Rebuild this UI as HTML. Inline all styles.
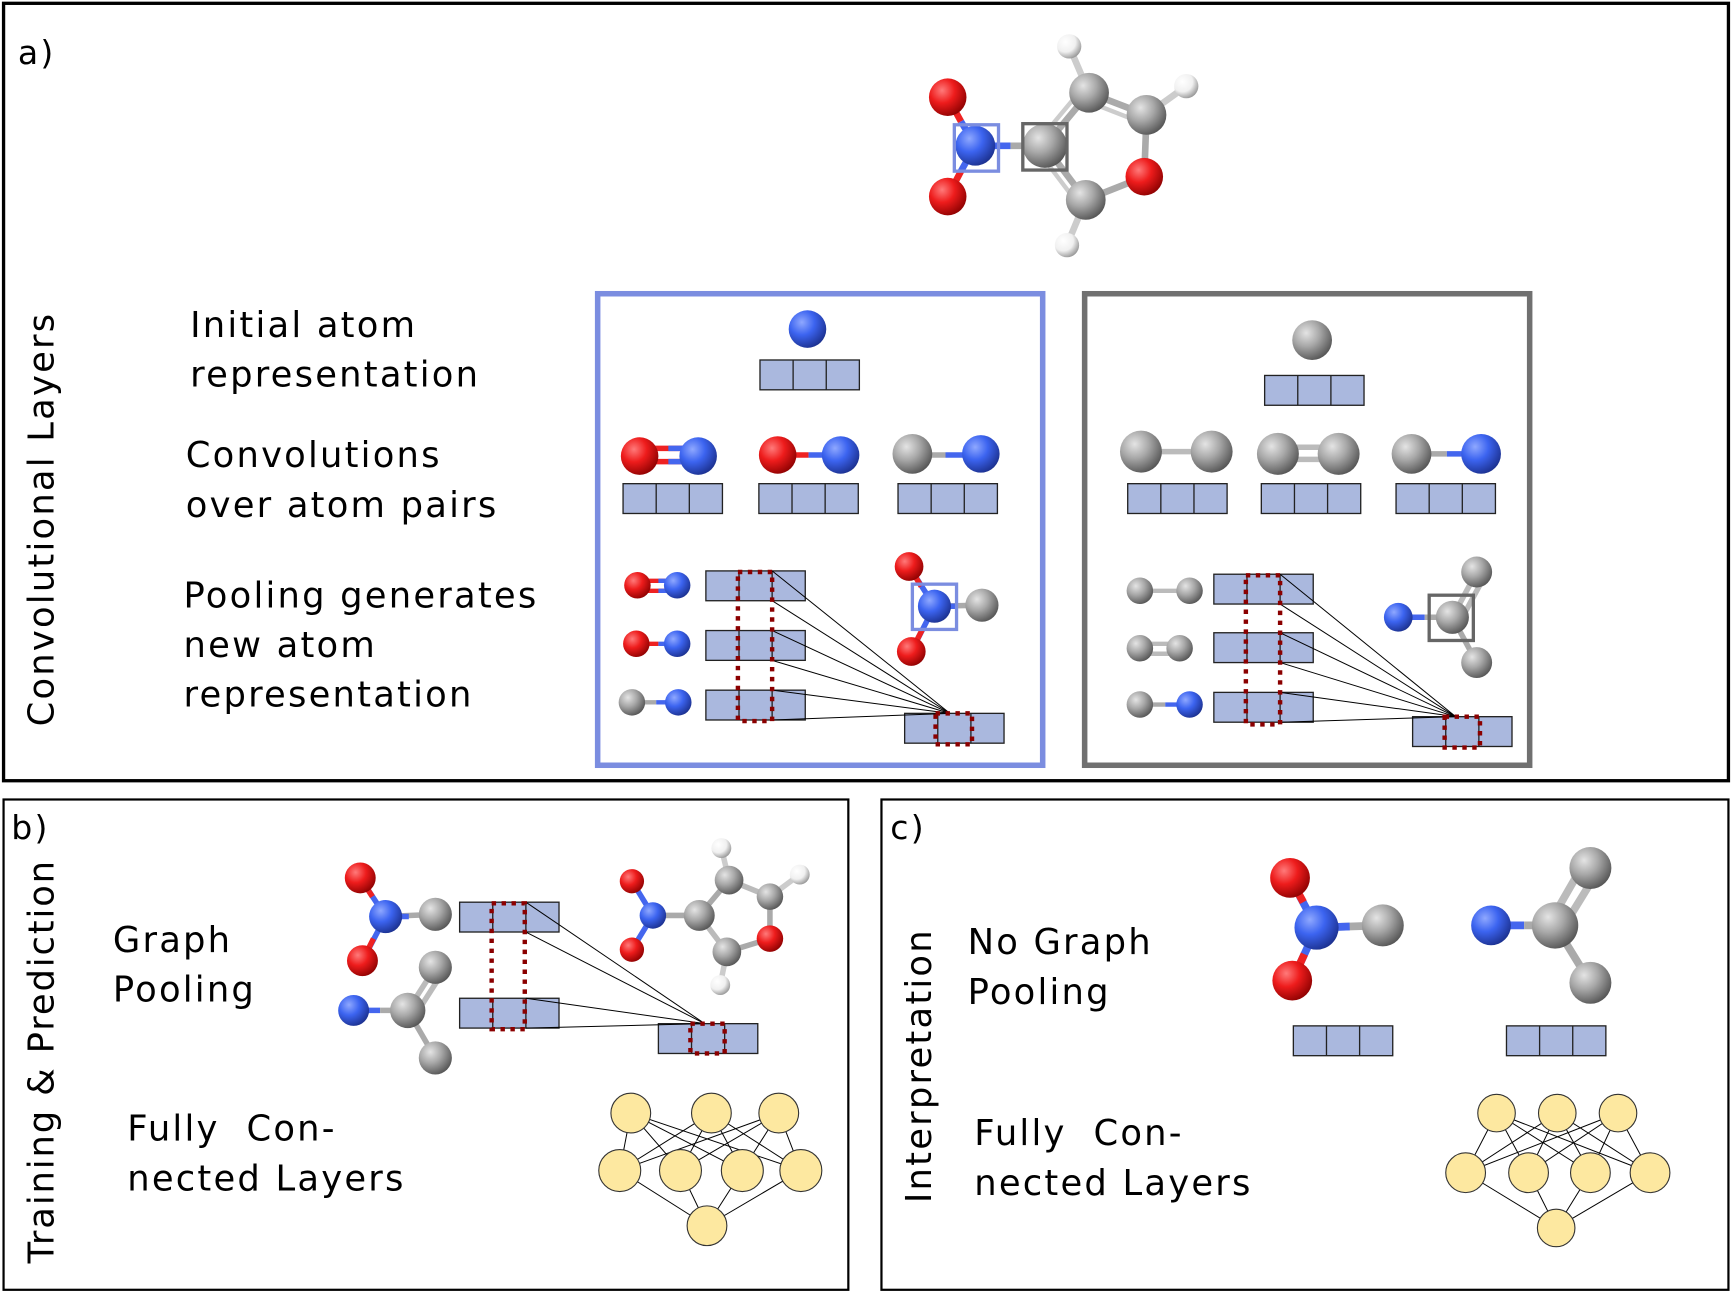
<!DOCTYPE html>
<html><head><meta charset="utf-8"><style>
html,body{margin:0;padding:0;background:#fff}
svg{display:block}
text{font-family:"DejaVu Sans","Liberation Sans",sans-serif;fill:#000;letter-spacing:2px;white-space:pre}
</style></head><body>
<svg width="1732" height="1292" viewBox="0 0 1568 1170" xmlns="http://www.w3.org/2000/svg">
<defs>
<radialGradient id="gR" cx="0.35" cy="0.32" r="0.75"><stop offset="0" stop-color="#ff7a7a"/><stop offset="0.45" stop-color="#ee1c1c"/><stop offset="1" stop-color="#8a0000"/></radialGradient>
<radialGradient id="gB" cx="0.35" cy="0.32" r="0.75"><stop offset="0" stop-color="#8fa8ff"/><stop offset="0.45" stop-color="#3c64f0"/><stop offset="1" stop-color="#1a2e8a"/></radialGradient>
<radialGradient id="gG" cx="0.35" cy="0.32" r="0.75"><stop offset="0" stop-color="#e4e4e4"/><stop offset="0.45" stop-color="#a8a8a8"/><stop offset="1" stop-color="#505050"/></radialGradient>
<radialGradient id="gW" cx="0.35" cy="0.32" r="0.75"><stop offset="0" stop-color="#ffffff"/><stop offset="0.55" stop-color="#f0f0f0"/><stop offset="1" stop-color="#909090"/></radialGradient>
<g id="v"><rect x="0" y="0" width="90" height="27" fill="#aab8de" stroke="#222" stroke-width="1.2"/><line x1="30" y1="0" x2="30" y2="27" stroke="#222" stroke-width="1.2"/><line x1="60" y1="0" x2="60" y2="27" stroke="#222" stroke-width="1.2"/></g>
</defs>

<rect x="3" y="3" width="1562" height="704" fill="none" stroke="#000" stroke-width="3"/>
<rect x="3" y="724" width="765" height="444" fill="none" stroke="#000" stroke-width="2"/>
<rect x="798" y="724" width="767" height="444" fill="none" stroke="#000" stroke-width="2"/>

<text x="16" y="58" font-size="30">a)</text>
<text x="10" y="760" font-size="30">b)</text>
<text x="806" y="760" font-size="30">c)</text>

<text transform="translate(48,470) rotate(-90)" font-size="32" text-anchor="middle">Convolutional Layers</text>
<text transform="translate(48,961) rotate(-90)" font-size="32" text-anchor="middle" style="letter-spacing:1.7px">Training &amp; Prediction</text>
<text transform="translate(843,965) rotate(-90)" font-size="32" text-anchor="middle">Interpretation</text>

<g font-size="32">
<text x="172" y="305">Initial atom</text>
<text x="172" y="350">representation</text>
<text x="168" y="423">Convolutions</text>
<text x="168" y="468">over atom pairs</text>
<text x="166" y="550">Pooling generates</text>
<text x="166" y="595">new atom</text>
<text x="166" y="640">representation</text>
<text x="102" y="862">Graph</text>
<text x="102" y="907">Pooling</text>
<text x="115" y="1033">Fully&#160; Con-</text>
<text x="115" y="1078">nected Layers</text>
<text x="876" y="864">No Graph</text>
<text x="876" y="909">Pooling</text>
<text x="882" y="1037">Fully&#160; Con-</text>
<text x="882" y="1082">nected Layers</text>
</g>

<g stroke-width="6">
<line x1="858" y1="88" x2="870" y2="110" stroke="#ee2222"/><line x1="870" y1="110" x2="883" y2="132" stroke="#4466ee"/>
<line x1="858" y1="178" x2="870" y2="155" stroke="#ee2222"/><line x1="870" y1="155" x2="883" y2="132" stroke="#4466ee"/>
<line x1="883" y1="132" x2="915" y2="132" stroke="#4466ee"/><line x1="915" y1="132" x2="946" y2="132" stroke="#aaa"/>
<line x1="946" y1="132" x2="986" y2="84" stroke="#aaa"/>
<line x1="940" y1="128" x2="980" y2="80" stroke="#ccc" stroke-width="4"/>
<line x1="986" y1="84" x2="1038" y2="104" stroke="#aaa"/>
<line x1="990" y1="94" x2="1036" y2="112" stroke="#ccc" stroke-width="4"/>
<line x1="1038" y1="104" x2="1036" y2="160" stroke="#aaa"/>
<line x1="1036" y1="160" x2="983" y2="181" stroke="#aaa"/>
<line x1="983" y1="181" x2="946" y2="132" stroke="#aaa"/>
<line x1="977" y1="186" x2="940" y2="137" stroke="#ccc" stroke-width="4"/>
<line x1="986" y1="84" x2="968" y2="42" stroke="#ccc"/>
<line x1="1038" y1="104" x2="1074" y2="78" stroke="#ccc"/>
<line x1="983" y1="181" x2="966" y2="222" stroke="#ccc"/>
</g>
<circle cx="968" cy="42" r="11" fill="url(#gW)"/>
<circle cx="1074" cy="78" r="11" fill="url(#gW)"/>
<circle cx="966" cy="222" r="11" fill="url(#gW)"/>
<circle cx="858" cy="88" r="17" fill="url(#gR)"/>
<circle cx="858" cy="178" r="17" fill="url(#gR)"/>
<circle cx="883" cy="132" r="18" fill="url(#gB)"/>
<circle cx="946" cy="132" r="20" fill="url(#gG)"/>
<circle cx="986" cy="84" r="18" fill="url(#gG)"/>
<circle cx="1038" cy="104" r="18" fill="url(#gG)"/>
<circle cx="1036" cy="160" r="17" fill="url(#gR)"/>
<circle cx="983" cy="181" r="18" fill="url(#gG)"/>
<rect x="864" y="113" width="40" height="42" fill="none" stroke="#7b8de0" stroke-width="3"/>
<rect x="926" y="112" width="40" height="42" fill="none" stroke="#666" stroke-width="3"/>

<rect x="541" y="266" width="403" height="427" fill="none" stroke="#7b8de0" stroke-width="5"/>
<circle cx="731" cy="298" r="17" fill="url(#gB)"/>
<use href="#v" x="688" y="326"/>
<g stroke-width="5">
<line x1="578" y1="406" x2="633" y2="406" stroke="#ee2222"/><line x1="578" y1="418" x2="633" y2="418" stroke="#ee2222"/>
<line x1="605" y1="406" x2="633" y2="406" stroke="#4466ee"/><line x1="605" y1="418" x2="633" y2="418" stroke="#4466ee"/>
<line x1="704" y1="412" x2="732" y2="412" stroke="#ee2222"/><line x1="732" y1="412" x2="761" y2="412" stroke="#4466ee"/>
<line x1="826" y1="412" x2="856" y2="412" stroke="#aaa"/><line x1="856" y1="412" x2="888" y2="412" stroke="#4466ee"/>
</g>
<circle cx="579" cy="413" r="17" fill="url(#gR)"/><circle cx="632" cy="413" r="17" fill="url(#gB)"/>
<circle cx="704" cy="412" r="17" fill="url(#gR)"/><circle cx="761" cy="412" r="17" fill="url(#gB)"/>
<circle cx="826" cy="411" r="18" fill="url(#gG)"/><circle cx="888" cy="411" r="17" fill="url(#gB)"/>
<use href="#v" x="564" y="438"/><use href="#v" x="687" y="438"/><use href="#v" x="813" y="438"/>
<g stroke-width="4">
<line x1="577" y1="526" x2="610" y2="526" stroke="#ee2222"/><line x1="577" y1="535" x2="610" y2="535" stroke="#ee2222"/>
<line x1="596" y1="526" x2="612" y2="526" stroke="#4466ee"/><line x1="596" y1="535" x2="612" y2="535" stroke="#4466ee"/>
<line x1="577" y1="583" x2="596" y2="583" stroke="#ee2222"/><line x1="596" y1="583" x2="614" y2="583" stroke="#4466ee"/>
<line x1="572" y1="636" x2="594" y2="636" stroke="#aaa"/><line x1="594" y1="636" x2="615" y2="636" stroke="#4466ee"/>
</g>
<circle cx="577" cy="530" r="12" fill="url(#gR)"/><circle cx="613" cy="530" r="12" fill="url(#gB)"/>
<circle cx="576" cy="583" r="12" fill="url(#gR)"/><circle cx="613" cy="583" r="12" fill="url(#gB)"/>
<circle cx="572" cy="636" r="12" fill="url(#gG)"/><circle cx="614" cy="636" r="12" fill="url(#gB)"/>
<use href="#v" x="639" y="517"/><use href="#v" x="639" y="571"/><use href="#v" x="639" y="625"/>
<use href="#v" x="819" y="646"/>
<g stroke="#000" stroke-width="0.9">
<line x1="699" y1="517" x2="860" y2="646"/><line x1="699" y1="544" x2="860" y2="646"/>
<line x1="699" y1="571" x2="860" y2="646"/><line x1="699" y1="598" x2="860" y2="646"/>
<line x1="699" y1="625" x2="860" y2="646"/><line x1="699" y1="652" x2="860" y2="646"/>
</g>
<rect x="668" y="518" width="31" height="135" fill="none" stroke="#8b0000" stroke-width="4" stroke-dasharray="4,5"/>
<rect x="847" y="646" width="33" height="28" fill="none" stroke="#8b0000" stroke-width="4" stroke-dasharray="4,5"/>
<g stroke-width="5">
<line x1="823" y1="513" x2="846" y2="549" stroke="#4466ee"/><line x1="823" y1="513" x2="834" y2="531" stroke="#ee2222"/>
<line x1="825" y1="590" x2="846" y2="549" stroke="#4466ee"/><line x1="825" y1="590" x2="835" y2="570" stroke="#ee2222"/>
<line x1="846" y1="549" x2="889" y2="548" stroke="#aaa"/><line x1="846" y1="549" x2="866" y2="549" stroke="#4466ee"/>
</g>
<circle cx="823" cy="513" r="13" fill="url(#gR)"/><circle cx="825" cy="590" r="13" fill="url(#gR)"/>
<circle cx="846" cy="549" r="15" fill="url(#gB)"/><circle cx="889" cy="548" r="15" fill="url(#gG)"/>
<rect x="826" y="529" width="40" height="41" fill="none" stroke="#7b8de0" stroke-width="3"/>

<rect x="982" y="266" width="403" height="427" fill="none" stroke="#707070" stroke-width="5"/>
<circle cx="1188" cy="308" r="18" fill="url(#gG)"/>
<use href="#v" x="1145" y="340"/>
<g stroke-width="5">
<line x1="1033" y1="409" x2="1097" y2="409" stroke="#bbb"/>
<line x1="1157" y1="405" x2="1212" y2="405" stroke="#bbb"/><line x1="1157" y1="416" x2="1212" y2="416" stroke="#bbb"/>
<line x1="1278" y1="411" x2="1310" y2="411" stroke="#aaa"/><line x1="1310" y1="411" x2="1341" y2="411" stroke="#4466ee"/>
</g>
<circle cx="1033" cy="409" r="19" fill="url(#gG)"/><circle cx="1097" cy="409" r="19" fill="url(#gG)"/>
<circle cx="1157" cy="411" r="19" fill="url(#gG)"/><circle cx="1212" cy="411" r="19" fill="url(#gG)"/>
<circle cx="1278" cy="411" r="18" fill="url(#gG)"/><circle cx="1341" cy="411" r="18" fill="url(#gB)"/>
<use href="#v" x="1021" y="438"/><use href="#v" x="1142" y="438"/><use href="#v" x="1264" y="438"/>
<g stroke-width="4">
<line x1="1032" y1="535" x2="1077" y2="535" stroke="#bbb"/>
<line x1="1032" y1="583" x2="1068" y2="583" stroke="#bbb"/><line x1="1032" y1="592" x2="1068" y2="592" stroke="#bbb"/>
<line x1="1032" y1="638" x2="1055" y2="638" stroke="#aaa"/><line x1="1055" y1="638" x2="1077" y2="638" stroke="#4466ee"/>
</g>
<circle cx="1032" cy="535" r="12" fill="url(#gG)"/><circle cx="1077" cy="535" r="12" fill="url(#gG)"/>
<circle cx="1032" cy="587" r="12" fill="url(#gG)"/><circle cx="1068" cy="587" r="12" fill="url(#gG)"/>
<circle cx="1032" cy="638" r="12" fill="url(#gG)"/><circle cx="1077" cy="638" r="12" fill="url(#gB)"/>
<use href="#v" x="1099" y="520"/><use href="#v" x="1099" y="573"/><use href="#v" x="1099" y="627"/>
<use href="#v" x="1279" y="649"/>
<g stroke="#000" stroke-width="0.9">
<line x1="1159" y1="520" x2="1318" y2="649"/><line x1="1159" y1="547" x2="1318" y2="649"/>
<line x1="1159" y1="573" x2="1318" y2="649"/><line x1="1159" y1="600" x2="1318" y2="649"/>
<line x1="1159" y1="627" x2="1318" y2="649"/><line x1="1159" y1="654" x2="1318" y2="649"/>
</g>
<rect x="1128" y="521" width="31" height="135" fill="none" stroke="#8b0000" stroke-width="4" stroke-dasharray="4,5"/>
<rect x="1308" y="649" width="32" height="28" fill="none" stroke="#8b0000" stroke-width="4" stroke-dasharray="4,5"/>
<g stroke-width="5">
<line x1="1266" y1="559" x2="1290" y2="559" stroke="#4466ee"/><line x1="1290" y1="559" x2="1315" y2="559" stroke="#aaa"/>
<line x1="1315" y1="559" x2="1337" y2="518" stroke="#bbb"/><line x1="1322" y1="563" x2="1344" y2="522" stroke="#bbb"/>
<line x1="1315" y1="559" x2="1337" y2="600" stroke="#aaa"/>
</g>
<circle cx="1266" cy="559" r="13" fill="url(#gB)"/><circle cx="1337" cy="518" r="14" fill="url(#gG)"/>
<circle cx="1337" cy="600" r="14" fill="url(#gG)"/><circle cx="1315" cy="559" r="15" fill="url(#gG)"/>
<rect x="1294" y="539" width="40" height="41" fill="none" stroke="#666" stroke-width="3"/>

<g stroke-width="5">
<line x1="326" y1="795" x2="349" y2="830" stroke="#4466ee"/><line x1="326" y1="795" x2="337" y2="812" stroke="#ee2222"/>
<line x1="328" y1="870" x2="349" y2="830" stroke="#4466ee"/><line x1="328" y1="870" x2="338" y2="850" stroke="#ee2222"/>
<line x1="349" y1="830" x2="394" y2="828" stroke="#aaa"/><line x1="349" y1="830" x2="370" y2="830" stroke="#4466ee"/>
<line x1="320" y1="915" x2="344" y2="915" stroke="#4466ee"/><line x1="344" y1="915" x2="369" y2="915" stroke="#aaa"/>
<line x1="369" y1="915" x2="394" y2="876" stroke="#bbb"/><line x1="376" y1="919" x2="401" y2="880" stroke="#bbb"/>
<line x1="369" y1="915" x2="394" y2="958" stroke="#aaa"/>
</g>
<circle cx="326" cy="795" r="14" fill="url(#gR)"/><circle cx="328" cy="870" r="14" fill="url(#gR)"/>
<circle cx="349" cy="830" r="15" fill="url(#gB)"/><circle cx="394" cy="828" r="15" fill="url(#gG)"/>
<circle cx="320" cy="915" r="14" fill="url(#gB)"/><circle cx="394" cy="876" r="15" fill="url(#gG)"/>
<circle cx="394" cy="958" r="15" fill="url(#gG)"/><circle cx="369" cy="915" r="16" fill="url(#gG)"/>
<g stroke-width="5">
<line x1="572" y1="798" x2="591" y2="829" stroke="#4466ee"/><line x1="572" y1="860" x2="591" y2="829" stroke="#4466ee"/>
<line x1="591" y1="829" x2="633" y2="829" stroke="#aaa"/>
<line x1="633" y1="829" x2="660" y2="797" stroke="#aaa"/><line x1="660" y1="797" x2="697" y2="812" stroke="#bbb"/>
<line x1="697" y1="812" x2="697" y2="850" stroke="#aaa"/><line x1="697" y1="850" x2="658" y2="862" stroke="#aaa"/>
<line x1="658" y1="862" x2="633" y2="829" stroke="#bbb"/>
<line x1="660" y1="797" x2="653" y2="768" stroke="#ccc"/><line x1="697" y1="812" x2="724" y2="792" stroke="#ccc"/>
<line x1="658" y1="862" x2="652" y2="892" stroke="#ccc"/>
</g>
<circle cx="653" cy="768" r="9" fill="url(#gW)"/><circle cx="724" cy="792" r="9" fill="url(#gW)"/><circle cx="652" cy="892" r="9" fill="url(#gW)"/>
<circle cx="572" cy="798" r="11" fill="url(#gR)"/><circle cx="572" cy="860" r="11" fill="url(#gR)"/>
<circle cx="591" cy="829" r="12" fill="url(#gB)"/><circle cx="633" cy="829" r="14" fill="url(#gG)"/>
<circle cx="660" cy="797" r="13" fill="url(#gG)"/><circle cx="697" cy="812" r="12" fill="url(#gG)"/>
<circle cx="697" cy="850" r="12" fill="url(#gR)"/><circle cx="658" cy="862" r="13" fill="url(#gG)"/>
<use href="#v" x="416" y="817"/><use href="#v" x="416" y="904"/><use href="#v" x="596" y="927"/>
<g stroke="#000" stroke-width="0.9">
<line x1="476" y1="817" x2="638" y2="927"/><line x1="476" y1="844" x2="638" y2="927"/>
<line x1="476" y1="904" x2="638" y2="927"/><line x1="476" y1="931" x2="638" y2="927"/>
</g>
<rect x="445" y="818" width="30" height="114" fill="none" stroke="#8b0000" stroke-width="4" stroke-dasharray="4,5"/>
<rect x="625" y="927" width="31" height="27" fill="none" stroke="#8b0000" stroke-width="4" stroke-dasharray="4,5"/>

<g stroke="#000" stroke-width="0.9">
<line x1="571" y1="1008" x2="561" y2="1060"/><line x1="571" y1="1008" x2="616" y2="1060"/><line x1="571" y1="1008" x2="672" y2="1060"/><line x1="571" y1="1008" x2="725" y2="1060"/>
<line x1="644" y1="1008" x2="561" y2="1060"/><line x1="644" y1="1008" x2="616" y2="1060"/><line x1="644" y1="1008" x2="672" y2="1060"/><line x1="644" y1="1008" x2="725" y2="1060"/>
<line x1="705" y1="1008" x2="561" y2="1060"/><line x1="705" y1="1008" x2="616" y2="1060"/><line x1="705" y1="1008" x2="672" y2="1060"/><line x1="705" y1="1008" x2="725" y2="1060"/>
<line x1="561" y1="1060" x2="640" y2="1110"/><line x1="616" y1="1060" x2="640" y2="1110"/><line x1="672" y1="1060" x2="640" y2="1110"/><line x1="725" y1="1060" x2="640" y2="1110"/>
</g>
<g fill="#fde8a0" stroke="#333" stroke-width="1">
<circle cx="571" cy="1008" r="18"/><circle cx="644" cy="1008" r="18"/><circle cx="705" cy="1008" r="18"/>
<circle cx="561" cy="1060" r="19"/><circle cx="616" cy="1060" r="19"/><circle cx="672" cy="1060" r="19"/><circle cx="725" cy="1060" r="19"/>
<circle cx="640" cy="1110" r="18"/>
</g>

<g stroke-width="7">
<line x1="1168" y1="795" x2="1192" y2="840" stroke="#4466ee"/><line x1="1168" y1="795" x2="1180" y2="817" stroke="#ee2222"/>
<line x1="1170" y1="888" x2="1192" y2="840" stroke="#4466ee"/><line x1="1170" y1="888" x2="1181" y2="864" stroke="#ee2222"/>
<line x1="1192" y1="840" x2="1252" y2="838" stroke="#aaa"/><line x1="1192" y1="840" x2="1222" y2="839" stroke="#4466ee"/>
<line x1="1350" y1="838" x2="1380" y2="838" stroke="#4466ee"/><line x1="1380" y1="838" x2="1408" y2="838" stroke="#aaa"/>
<line x1="1404" y1="834" x2="1434" y2="782" stroke="#bbb"/><line x1="1414" y1="842" x2="1446" y2="790" stroke="#bbb"/>
<line x1="1408" y1="838" x2="1440" y2="890" stroke="#aaa"/>
</g>
<circle cx="1168" cy="795" r="18" fill="url(#gR)"/><circle cx="1170" cy="888" r="18" fill="url(#gR)"/>
<circle cx="1192" cy="840" r="20" fill="url(#gB)"/><circle cx="1252" cy="838" r="19" fill="url(#gG)"/>
<circle cx="1350" cy="838" r="18" fill="url(#gB)"/><circle cx="1440" cy="786" r="19" fill="url(#gG)"/>
<circle cx="1440" cy="890" r="19" fill="url(#gG)"/><circle cx="1408" cy="838" r="21" fill="url(#gG)"/>
<use href="#v" x="1171" y="929"/><use href="#v" x="1364" y="929"/>

<g stroke="#000" stroke-width="0.9">
<line x1="1355" y1="1008" x2="1327" y2="1062"/><line x1="1355" y1="1008" x2="1384" y2="1062"/><line x1="1355" y1="1008" x2="1440" y2="1062"/><line x1="1355" y1="1008" x2="1494" y2="1062"/>
<line x1="1410" y1="1008" x2="1327" y2="1062"/><line x1="1410" y1="1008" x2="1384" y2="1062"/><line x1="1410" y1="1008" x2="1440" y2="1062"/><line x1="1410" y1="1008" x2="1494" y2="1062"/>
<line x1="1465" y1="1008" x2="1327" y2="1062"/><line x1="1465" y1="1008" x2="1384" y2="1062"/><line x1="1465" y1="1008" x2="1440" y2="1062"/><line x1="1465" y1="1008" x2="1494" y2="1062"/>
<line x1="1327" y1="1062" x2="1409" y2="1112"/><line x1="1384" y1="1062" x2="1409" y2="1112"/><line x1="1440" y1="1062" x2="1409" y2="1112"/><line x1="1494" y1="1062" x2="1409" y2="1112"/>
</g>
<g fill="#fde8a0" stroke="#333" stroke-width="1">
<circle cx="1355" cy="1008" r="17"/><circle cx="1410" cy="1008" r="17"/><circle cx="1465" cy="1008" r="17"/>
<circle cx="1327" cy="1062" r="18"/><circle cx="1384" cy="1062" r="18"/><circle cx="1440" cy="1062" r="18"/><circle cx="1494" cy="1062" r="18"/>
<circle cx="1409" cy="1112" r="17"/>
</g>
</svg>
</body></html>
